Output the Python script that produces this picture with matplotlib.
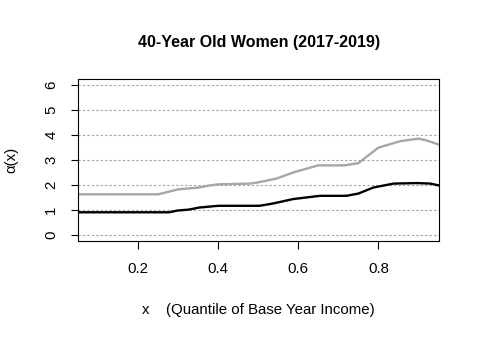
import matplotlib
matplotlib.use("Agg")
import matplotlib.pyplot as plt

# quantile of base year income
x_gray = [0.05, 0.25, 0.30, 0.35, 0.38, 0.40, 0.48, 0.50, 0.545, 0.59, 0.65, 0.715, 0.75, 0.80, 0.855, 0.90, 0.92, 0.95]
alpha_gray = [1.61, 1.61, 1.81, 1.88, 1.97, 2.01, 2.04, 2.09, 2.24, 2.50, 2.77, 2.77, 2.86, 3.48, 3.74, 3.84, 3.77, 3.61]

x_black = [0.05, 0.277, 0.298, 0.327, 0.352, 0.40, 0.503, 0.536, 0.587, 0.654, 0.72, 0.75, 0.787, 0.838, 0.896, 0.93, 0.95]
alpha_black = [0.89, 0.89, 0.96, 1.00, 1.08, 1.15, 1.15, 1.24, 1.42, 1.55, 1.55, 1.64, 1.88, 2.04, 2.06, 2.04, 1.97]

x_ticks = [0.2, 0.4, 0.6, 0.8]
y_ticks = [0, 1, 2, 3, 4, 5, 6]

plt.rcParams["font.family"] = ["Liberation Sans", "DejaVu Sans"]

fig = plt.figure(figsize=(4.8, 3.38), dpi=100)
ax = fig.add_axes([0.163, 0.287, 0.752, 0.480])

for y in y_ticks:
    ax.axhline(y, color="#A0A0A0", lw=0.8, linestyle=(0, (2, 2)), zorder=1)

ax.plot(x_gray, alpha_gray, color="#A6A6A6", lw=1.7, zorder=2)
ax.plot(x_black, alpha_black, color="black", lw=1.7, zorder=3)

ax.set_xlim(0.05, 0.952)
ax.set_ylim(-0.26, 6.24)
ax.set_xticks(x_ticks)
ax.set_xticklabels([str(t) for t in x_ticks])
ax.set_yticks(y_ticks)
ax.set_yticklabels([str(t) for t in y_ticks], rotation=90, va="center")
ax.tick_params(direction="out", length=5.4, width=0.8, labelsize=10.8)
ax.tick_params(axis="x", pad=10)
ax.tick_params(axis="y", pad=9)

for s in ax.spines.values():
    s.set_linewidth(0.8)

ax.set_title("40-Year Old Women (2017-2019)", fontsize=11.5, fontweight="bold",
             y=1.226, pad=0, va="center")
ax.set_xlabel("x    (Quantile of Base Year Income)", fontsize=10.8)
ax.xaxis.set_label_coords(0.5, -0.425)
ax.xaxis.label.set_va("center")
ax.set_ylabel("\u03b1(x)", fontsize=10.8)
ax.yaxis.set_label_coords(-0.186, 0.5)
ax.yaxis.label.set_va("center")

fig.savefig("out.png", dpi=100)
plt.close(fig)
